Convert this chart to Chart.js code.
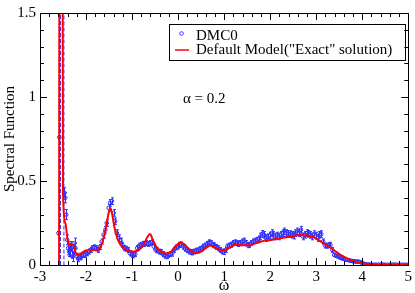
<!DOCTYPE html>
<html>
<head>
<meta charset="utf-8">
<script src="https://cdn.jsdelivr.net/npm/chart.js"></script>
<style>
  body { margin: 0; background: #fff; }
  canvas { display: block; }
</style>
</head>
<body>
<canvas id="chart" width="415" height="293"></canvas>
<script>
// DMC0 points: omega, value, error bar
const dmcOmega = [
  -2.60, -2.58, -2.47, -2.45, -2.43, -2.41, -2.39, -2.37, -2.35, -2.33,
  -2.31, -2.29, -2.27, -2.25, -2.23, -2.20, -2.17, -2.14, -2.10, -2.06,
  -2.02, -1.98, -1.94, -1.90, -1.86, -1.82, -1.78, -1.74, -1.70, -1.66,
  -1.62, -1.58, -1.55, -1.51, -1.48, -1.44, -1.40, -1.37, -1.33, -1.29,
  -1.25, -1.21, -1.17, -1.13, -1.09, -1.05, -1.01, -0.97, -0.93, -0.89,
  -0.85, -0.81, -0.77, -0.73, -0.69, -0.65, -0.61, -0.57, -0.53, -0.49,
  -0.45, -0.41, -0.37, -0.33, -0.29, -0.25, -0.21, -0.17, -0.13, -0.09,
  -0.05, -0.01, 0.03, 0.07, 0.11, 0.15, 0.19, 0.23, 0.27, 0.31,
  0.35, 0.39, 0.43, 0.47, 0.51, 0.55, 0.59, 0.63, 0.67, 0.71,
  0.75, 0.79, 0.83, 0.87, 0.91, 0.95, 0.99, 1.03, 1.07, 1.11,
  1.15, 1.19, 1.23, 1.27, 1.31, 1.35, 1.39, 1.43, 1.47, 1.51,
  1.55, 1.59, 1.63, 1.67, 1.71, 1.75, 1.79, 1.83, 1.87, 1.91,
  1.95, 1.99, 2.03, 2.07, 2.11, 2.15, 2.19, 2.23, 2.27, 2.31,
  2.35, 2.39, 2.43, 2.47, 2.51, 2.55, 2.59, 2.63, 2.67, 2.71,
  2.75, 2.79, 2.83, 2.87, 2.91, 2.95, 2.99, 3.03, 3.07, 3.11,
  3.15, 3.19, 3.23, 3.27, 3.31, 3.35, 3.39, 3.43, 3.47, 3.51,
  3.55, 3.59, 3.63, 3.67, 3.71, 3.75, 3.79, 3.83, 3.87, 3.91,
  3.95, 3.99, 4.03, 4.07, 4.11, 4.15, 4.20, 4.25, 4.30, 4.35,
  4.40, 4.45, 4.50, 4.55, 4.60, 4.65, 4.70, 4.75, 4.80, 4.85,
  4.90, 4.95, 5.00
];
const dmcValue = [
  0.19, 0.76, 0.43, 0.40, 0.30, 0.15, 0.10, 0.08, 0.09, 0.11,
  0.07, 0.05, 0.09, 0.13, 0.10, 0.05, 0.04, 0.05, 0.05, 0.06,
  0.06, 0.07, 0.08, 0.09, 0.10, 0.105, 0.10, 0.09, 0.107, 0.14,
  0.18, 0.21, 0.25, 0.34, 0.37, 0.38, 0.31, 0.26, 0.19, 0.16,
  0.145, 0.12, 0.10, 0.097, 0.09, 0.07, 0.06, 0.058, 0.065, 0.10,
  0.115, 0.12, 0.126, 0.125, 0.13, 0.126, 0.13, 0.135, 0.11, 0.09,
  0.087, 0.08, 0.077, 0.065, 0.055, 0.052, 0.06, 0.065, 0.068, 0.09,
  0.105, 0.11, 0.12, 0.122, 0.11, 0.097, 0.09, 0.08, 0.077, 0.075,
  0.08, 0.085, 0.087, 0.095, 0.10, 0.11, 0.116, 0.125, 0.135, 0.13,
  0.12, 0.116, 0.107, 0.10, 0.09, 0.08, 0.077, 0.09, 0.11, 0.116,
  0.12, 0.13, 0.135, 0.13, 0.125, 0.13, 0.14, 0.145, 0.13, 0.118,
  0.12, 0.13, 0.14, 0.145, 0.15, 0.155, 0.17, 0.185, 0.18, 0.16,
  0.165, 0.175, 0.19, 0.18, 0.17, 0.175, 0.17, 0.18, 0.19, 0.20,
  0.19, 0.185, 0.184, 0.18, 0.175, 0.19, 0.20, 0.19, 0.21, 0.17,
  0.18, 0.19, 0.185, 0.18, 0.17, 0.184, 0.175, 0.16, 0.18, 0.184,
  0.14, 0.116, 0.115, 0.118, 0.12, 0.09, 0.06, 0.055, 0.05, 0.045,
  0.04, 0.037, 0.033, 0.03, 0.028, 0.025, 0.023, 0.022, 0.02, 0.02,
  0.018, 0.012, 0.008, 0.005, 0.004, 0.003, 0.003, 0.002, 0.002, 0.002,
  0.002, 0.003, 0.002, 0.001, 0.002, 0.002, 0.003, 0.002, 0.001, 0.002,
  0.002, 0.001, 0.002
];
const dmcError = [
  0.01, 0.01, 0.03, 0.03, 0.03, 0.03, 0.04, 0.03, 0.04, 0.03,
  0.03, 0.03, 0.03, 0.03, 0.03, 0.02, 0.02, 0.02, 0.015, 0.015,
  0.015, 0.015, 0.015, 0.015, 0.015, 0.015, 0.015, 0.015, 0.015, 0.015,
  0.02, 0.02, 0.02, 0.02, 0.02, 0.02, 0.02, 0.02, 0.02, 0.02,
  0.015, 0.015, 0.015, 0.015, 0.015, 0.015, 0.015, 0.015, 0.015, 0.015,
  0.015, 0.015, 0.015, 0.015, 0.015, 0.015, 0.015, 0.015, 0.015, 0.015,
  0.015, 0.015, 0.015, 0.015, 0.015, 0.015, 0.015, 0.015, 0.015, 0.015,
  0.015, 0.015, 0.015, 0.015, 0.015, 0.015, 0.015, 0.015, 0.015, 0.015,
  0.015, 0.015, 0.015, 0.015, 0.015, 0.015, 0.015, 0.015, 0.015, 0.015,
  0.015, 0.015, 0.015, 0.015, 0.015, 0.015, 0.015, 0.015, 0.015, 0.015,
  0.015, 0.015, 0.015, 0.015, 0.015, 0.015, 0.015, 0.015, 0.015, 0.015,
  0.015, 0.015, 0.015, 0.015, 0.015, 0.015, 0.02, 0.02, 0.02, 0.02,
  0.02, 0.02, 0.02, 0.02, 0.02, 0.02, 0.02, 0.02, 0.02, 0.02,
  0.02, 0.02, 0.02, 0.02, 0.02, 0.02, 0.02, 0.02, 0.02, 0.02,
  0.02, 0.02, 0.02, 0.02, 0.02, 0.02, 0.02, 0.02, 0.02, 0.02,
  0.015, 0.015, 0.015, 0.015, 0.015, 0.015, 0.01, 0.01, 0.01, 0.01,
  0.008, 0.008, 0.008, 0.008, 0.008, 0.008, 0.008, 0.008, 0.008, 0.008,
  0.006, 0.005, 0.004, 0.004, 0.003, 0.003, 0.003, 0.003, 0.003, 0.003,
  0.003, 0.003, 0.003, 0.003, 0.003, 0.003, 0.003, 0.003, 0.003, 0.003,
  0.003, 0.003, 0.003
];

// default model ("exact" solution)
const modelOmega = [
  -2.585, -2.58, -2.51, -2.50, -2.45, -2.40, -2.35, -2.28, -2.22, -2.16,
  -2.10, -2.02, -1.90, -1.75, -1.65, -1.57, -1.50, -1.47, -1.43, -1.38,
  -1.32, -1.25, -1.15, -1.05, -0.95, -0.85, -0.75, -0.67, -0.61, -0.55,
  -0.48, -0.38, -0.25, -0.15, -0.05, 0.05, 0.15, 0.25, 0.40, 0.50,
  0.60, 0.70, 0.80, 0.90, 0.98, 1.10, 1.25, 1.40, 1.55, 1.70,
  1.88, 2.05, 2.24, 2.45, 2.65, 2.80, 2.95, 3.07, 3.20, 3.29,
  3.40, 3.51, 3.62, 3.72, 3.85, 4.00, 4.15, 4.30, 4.60, 5.00
];
const modelValue = [
  0, 2, 2, 0.43, 0.25, 0.15, 0.12, 0.12, 0.07, 0.058,
  0.07, 0.085, 0.09, 0.09, 0.13, 0.22, 0.32, 0.34, 0.30, 0.22,
  0.16, 0.12, 0.095, 0.08, 0.08, 0.09, 0.12, 0.165, 0.184, 0.15,
  0.11, 0.08, 0.068, 0.08, 0.11, 0.136, 0.12, 0.09, 0.072, 0.08,
  0.10, 0.116, 0.105, 0.09, 0.087, 0.10, 0.12, 0.117, 0.118, 0.13,
  0.145, 0.15, 0.16, 0.17, 0.178, 0.176, 0.165, 0.145, 0.122, 0.107,
  0.085, 0.064, 0.047, 0.033, 0.02, 0.01, 0.004, 0.0015, 0.001, 0.001
];

// dashed blue lines around the low-energy peak
const peakOmega = [-2.555, -2.555, -2.48, -2.48];
const peakValue = [0, 2, 2, 0];

const xTicks = [-3, -2, -1, 0, 1, 2, 3, 4, 5];
const yTicks = [0, 0.5, 1, 1.5];

const serif = '"Liberation Serif", "Times New Roman", serif';
const blue = 'rgb(50,50,255)';

function pts(xs, ys) {
  return xs.map((x, i) => ({ x: x, y: ys[i] }));
}

// error bars for the DMC0 points
const errorBars = {
  id: 'errorBars',
  afterDatasetDraw(chart, args) {
    if (args.index !== 1) return;
    const { ctx, chartArea: a } = chart;
    const x = chart.scales.x, y = chart.scales.y;
    ctx.save();
    ctx.beginPath();
    ctx.rect(a.left, a.top, a.right - a.left, a.bottom - a.top);
    ctx.clip();
    ctx.strokeStyle = blue;
    ctx.lineWidth = 1;
    ctx.beginPath();
    dmcOmega.forEach((w, i) => {
      const px = Math.round(x.getPixelForValue(w)) + 0.5;
      const t = y.getPixelForValue(dmcValue[i] + dmcError[i]);
      const b = y.getPixelForValue(dmcValue[i] - dmcError[i]);
      ctx.moveTo(px, t); ctx.lineTo(px, b);
      ctx.moveTo(px - 1.5, t); ctx.lineTo(px + 1.5, t);
      ctx.moveTo(px - 1.5, b); ctx.lineTo(px + 1.5, b);
    });
    ctx.stroke();
    ctx.restore();
  }
};

// frame, inward ticks, legend box and alpha label
const decorations = {
  id: 'decorations',
  afterDatasetsDraw(chart) {
    const { ctx, chartArea: a } = chart;
    const x = chart.scales.x, y = chart.scales.y;
    ctx.save();
    ctx.strokeStyle = '#000';
    ctx.lineWidth = 1;
    ctx.strokeRect(Math.round(a.left) + 0.5, Math.round(a.top) + 0.5,
      Math.round(a.right - a.left), Math.round(a.bottom - a.top));

    ctx.beginPath();
    for (let k = 0; k <= 40; k++) {
      const v = -3 + k * 0.2;
      const px = Math.round(x.getPixelForValue(v)) + 0.5;
      const len = k % 5 === 0 ? 7 : 4;
      ctx.moveTo(px, a.bottom); ctx.lineTo(px, a.bottom - len);
      ctx.moveTo(px, a.top); ctx.lineTo(px, a.top + len);
    }
    for (let k = 0; k <= 15; k++) {
      const v = k * 0.1;
      const py = Math.round(y.getPixelForValue(v)) + 0.5;
      const len = k % 5 === 0 ? 7 : 4;
      ctx.moveTo(a.left, py); ctx.lineTo(a.left + len, py);
      ctx.moveTo(a.right, py); ctx.lineTo(a.right - len, py);
    }
    ctx.stroke();

    // legend
    ctx.strokeRect(169.5, 24.5, 236, 36);
    ctx.strokeStyle = blue;
    ctx.beginPath();
    ctx.arc(181.5, 33.5, 1.8, 0, Math.PI * 2);
    ctx.stroke();
    ctx.strokeStyle = 'red';
    ctx.lineWidth = 1.5;
    ctx.beginPath();
    ctx.moveTo(175, 50); ctx.lineTo(189, 50);
    ctx.stroke();
    ctx.fillStyle = '#000';
    ctx.font = '15px ' + serif;
    ctx.textBaseline = 'alphabetic';
    ctx.fillText('DMC0', 196, 39.5);
    ctx.fillText('Default Model("Exact" solution)', 196, 53.5);

    ctx.fillText('\u03b1 = 0.2', 183, 103);
    ctx.restore();
  }
};

new Chart(document.getElementById('chart'), {
  type: 'scatter',
  data: {
    datasets: [
      {
        label: 'Default Model("Exact" solution)',
        data: pts(modelOmega, modelValue),
        showLine: true,
        borderColor: 'red',
        borderWidth: 2,
        pointRadius: 0,
        cubicInterpolationMode: 'monotone',
        fill: false
      },
      {
        label: 'DMC0',
        data: pts(dmcOmega, dmcValue),
        showLine: false,
        pointRadius: 1.8,
        pointBorderWidth: 1,
        pointBorderColor: blue,
        pointBackgroundColor: 'rgba(160,160,255,0.3)'
      },
      {
        label: 'peak',
        data: pts(peakOmega, peakValue),
        showLine: true,
        borderColor: blue,
        borderWidth: 1,
        borderDash: [4, 2],
        pointRadius: 0,
        tension: 0
      }
    ]
  },
  options: {
    responsive: false,
    animation: false,
    layout: { padding: { top: 7, right: 6, left: 0, bottom: 0 } },
    plugins: {
      legend: { display: false },
      tooltip: { enabled: false }
    },
    scales: {
      x: {
        type: 'linear',
        min: -3,
        max: 5,
        afterBuildTicks: s => { s.ticks = xTicks.map(v => ({ value: v })); },
        afterFit: s => { s.height = 28; },
        grid: { display: false, drawTicks: false },
        border: { display: false },
        ticks: { color: '#000', font: { family: serif, size: 15 }, padding: 3, maxRotation: 0, autoSkip: false,
          callback: v => String(v) },
        title: { display: true, text: '\u03c9', color: '#000', font: { family: serif, size: 16 }, padding: { top: 0, bottom: -2 } }
      },
      y: {
        type: 'linear',
        min: 0,
        max: 1.5,
        afterBuildTicks: s => { s.ticks = yTicks.map(v => ({ value: v })); },
        afterFit: s => { s.width = 40; },
        grid: { display: false, drawTicks: false },
        border: { display: false },
        ticks: { color: '#000', font: { family: serif, size: 15 }, padding: 4,
          callback: v => String(v) },
        title: { display: true, text: 'Spectral Function', color: '#000', font: { family: serif, size: 15 }, padding: { top: 1, bottom: 0 } }
      }
    }
  },
  plugins: [errorBars, decorations]
});
</script>
</body>
</html>
